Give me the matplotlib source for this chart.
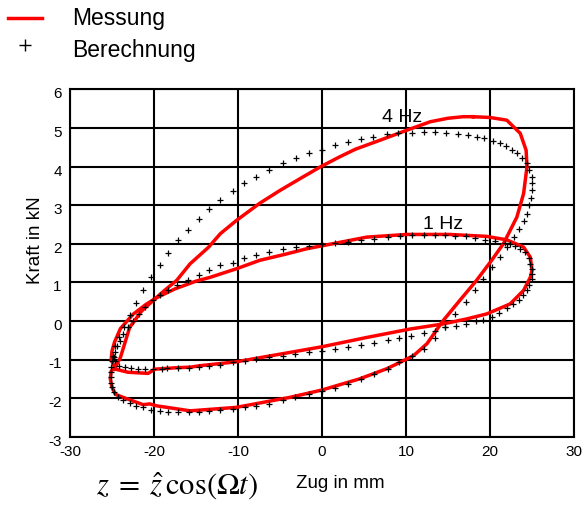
import matplotlib
matplotlib.use('Agg')
import matplotlib.pyplot as plt
from matplotlib.lines import Line2D
from matplotlib.transforms import ScaledTranslation

# Messung 4 Hz (rote Schleife)
mess4_x = [18.0, 20.0, 22.0, 23.6, 24.3, 24.4, 24.0, 23.2, 21.6, 20.2, 18.4, 16.4, 14.4, 12.5,
           10.9, 9.7, 7.7, 4.5, 0.0, -3.8, -10.2, -15.7, -19.7, -20.5, -21.3, -23.7, -24.6,
           -25.0, -25.2, -25.1, -24.6, -24.0, -22.9, -21.5, -20.1, -18.8, -17.3, -15.7, -13.5,
           -12.1, -10.2, -7.4, -5.0, -2.5, -0.2, 2.1, 4.0, 6.9, 10.1, 12.9, 15.0, 16.8, 18.0]
mess4_y = [5.29, 5.27, 5.2, 4.86, 4.42, 3.99, 3.3, 2.69, 2.0, 1.57, 1.05, 0.53, 0.0, -0.59,
           -0.9, -1.03, -1.24, -1.5, -1.79, -1.98, -2.24, -2.33, -2.2, -2.15, -2.17, -1.98, -1.9,
           -1.72, -1.5, -1.3, -1.2, -0.95, -0.17, 0.25, 0.53, 0.78, 1.05, 1.48, 1.91,
           2.26, 2.6, 3.05, 3.38, 3.7, 3.99, 4.25, 4.45, 4.68, 4.94, 5.16, 5.25, 5.29, 5.29]

# Messung 1 Hz
mess1_x = [-24.6, -25.1, -25.0, -24.7, -24.0, -22.5, -21.0, -19.7, -17.5, -15.0, -13.3, -10.2,
           -7.4, -4.5, -1.8, 1.3, 5.3, 10.1, 15.2, 19.6, 22.0, 24.0, 24.8, 25.0, 24.8, 24.0,
           22.4, 19.6, 17.2, 14.4, 10.5, 5.3, 0.0, -2.6, -6.0, -10.2, -14.5, -15.7, -17.1,
           -19.9, -20.7, -23.1, -24.6]
mess1_y = [-1.25, -1.0, -0.78, -0.55, -0.2, 0.17, 0.42, 0.6, 0.83, 1.03, 1.13, 1.35,
           1.57, 1.72, 1.87, 2.0, 2.17, 2.24, 2.24, 2.19, 2.1, 1.91, 1.65, 1.31, 1.13, 0.79,
           0.44, 0.18, 0.05, -0.08, -0.21, -0.43, -0.67, -0.77, -0.9, -1.06, -1.16, -1.2, -1.21,
           -1.25, -1.36, -1.33, -1.25]

# Berechnung 4 Hz (Kreuze)
calc4_x = [-20.3, -19.3, -18.3, -17.2, -15.9, -14.7, -13.5, -12.1, -10.6, -9.25, -7.8, -6.3,
           -4.7, -3.1, -1.55, 0.0, 1.55, 3.1, 4.6, 6.1, 7.7, 9.1, 10.7, 12.1, 13.5, 14.8, 16.2,
           17.4, 18.4, 19.3, 20.3, 21.2, 21.9, 22.6, 23.2, 23.8, 24.4, 24.7, 25.0, 25.0, 25.0,
           24.9, 24.7, 24.4, 24.0, 23.5, 22.8, 22.0, 21.2, 20.2, 19.2, 18.2, 17.1, 15.8, 14.6,
           13.5, 12.1, 10.7, 9.2, 7.8, 6.2, 4.6, 3.1, 1.55, 0.0, -1.55, -3.2, -4.7, -6.3, -7.8,
           -9.2, -10.6, -12.1, -13.4, -14.6, -15.8, -17.1, -18.3, -19.3, -20.3, -21.3, -22.1,
           -22.9, -23.7, -24.3, -24.8, -25.0, -25.1, -25.1, -25.1, -25.1, -25.0, -24.9, -24.6,
           -24.2, -23.6, -22.9, -22.1, -21.3]
calc4_y = [1.13, 1.45, 1.76, 2.09, 2.36, 2.64, 2.89, 3.12, 3.37, 3.56, 3.73, 3.92,
           4.08, 4.21, 4.34, 4.44, 4.55, 4.64, 4.71, 4.77, 4.83, 4.86, 4.88, 4.89, 4.89, 4.87, 4.84,
           4.81, 4.77, 4.73, 4.66, 4.6, 4.53, 4.44, 4.34, 4.21, 4.08, 3.9, 3.73, 3.56, 3.38,
           3.19, 2.99, 2.78, 2.59, 2.39, 2.17, 1.91, 1.65, 1.39, 1.09, 0.79, 0.48, 0.18, -0.17,
           -0.44, -0.73, -0.92, -1.07, -1.25, -1.38, -1.51, -1.64, -1.74, -1.81, -1.9, -1.97,
           -2.05, -2.14, -2.2, -2.24, -2.27, -2.3, -2.33, -2.35, -2.35, -2.37, -2.35, -2.33, -2.3,
           -2.24, -2.2, -2.13, -2.05, -1.97, -1.85, -1.72, -1.6, -1.46, -1.33, -1.2, -1.05, -0.9,
           -0.65, -0.42, -0.15, 0.15, 0.46, 0.79]

# Berechnung 1 Hz
calc1_x = [-24.6, -24.4, -24.0, -23.7, -23.1, -22.5, -21.8, -21.1, -20.1, -19.3, -18.3, -17.3,
           -15.9, -14.7, -13.5, -12.1, -10.6, -9.25, -7.8, -6.3, -4.7, -3.1, -1.55, 0.0, 1.55,
           3.1, 4.6, 6.2, 7.8, 9.3, 10.7, 12.1, 13.5, 14.6, 15.8, 17.1, 18.2, 19.4, 20.6, 21.8,
           22.4, 23.0, 23.6, 24.2, 24.7, 24.8, 25.0, 25.0, 25.0, 24.7, 24.4, 23.9, 23.4, 22.7,
           22.0, 21.1, 20.2, 19.2, 18.3, 17.1, 15.95, 14.6, 13.5, 12.1, 10.6, 9.2, 7.8, 6.2, 4.6,
           3.1, 1.55, 0.0, -1.6, -3.2, -4.7, -6.3, -7.8, -9.2, -10.6, -12.1, -13.4, -14.6, -15.8,
           -17.1, -18.5, -19.1, -20.1, -21.1, -21.9, -22.7, -23.5, -24.2, -24.7, -24.8]
calc1_y = [-0.81, -0.64, -0.51, -0.34, -0.17, 0.0, 0.18, 0.35, 0.53, 0.66, 0.79, 0.92,
           1.07, 1.19, 1.32, 1.44, 1.51, 1.63, 1.7, 1.78, 1.85, 1.91, 1.94, 1.98, 2.02,
           2.05, 2.09, 2.13, 2.17, 2.2, 2.22, 2.22, 2.22, 2.22, 2.21, 2.19, 2.16, 2.1, 2.06, 2.02,
           1.98, 1.93, 1.87, 1.78, 1.62, 1.48, 1.35, 1.22, 1.09, 0.92, 0.8, 0.67, 0.55, 0.44,
           0.33, 0.21, 0.11, 0.03, -0.01, -0.08, -0.14, -0.17, -0.25, -0.31, -0.38, -0.44, -0.49,
           -0.56, -0.62, -0.67, -0.73, -0.77, -0.81, -0.87, -0.9, -0.94, -0.99, -1.03, -1.07,
           -1.13, -1.16, -1.2, -1.22, -1.23, -1.23, -1.25, -1.25, -1.25, -1.25, -1.22, -1.19,
           -1.16, -1.05, -0.93]

x_ticks = [-30, -20, -10, 0, 10, 20, 30]
y_ticks = [-3, -2, -1, 0, 1, 2, 3, 4, 5, 6]

RED = '#FF0000'
plt.rcParams['font.family'] = ['Liberation Sans', 'DejaVu Sans']
plt.rcParams['mathtext.fontset'] = 'stix'
plt.rcParams['axes.unicode_minus'] = False

fig = plt.figure(figsize=(5.83, 5.09), dpi=100)
ax = fig.add_axes([70 / 583, 1 - 436.7 / 509, 504 / 583, 347.4 / 509])

ax.plot(mess4_x, mess4_y, color=RED, lw=2.5, zorder=3)
ax.plot(mess1_x, mess1_y, color=RED, lw=2.5, zorder=3)
ax.plot(calc4_x, calc4_y, '+', color='black', ms=5, mew=0.9, zorder=4)
ax.plot(calc1_x, calc1_y, '+', color='black', ms=5, mew=0.9, zorder=4)

ax.set_xlim(-30, 30)
ax.set_ylim(-3, 6)
ax.set_xticks(x_ticks)
ax.set_yticks(y_ticks)
ax.tick_params(length=0, labelsize=11)
ax.tick_params(axis='x', pad=6)
ax.tick_params(axis='y', pad=6)
ax.grid(True, color='black', lw=1.5)
ax.set_axisbelow(True)
for s in ax.spines.values():
    s.set_linewidth(1.5)
    s.set_color('black')

# y labels sit a little low in the original
off = ScaledTranslation(0, -0.035, fig.dpi_scale_trans)
for lab in ax.get_yticklabels():
    lab.set_transform(lab.get_transform() + off)

ax.text(9.5, 5.28, '4 Hz', fontsize=14, ha='center', va='center')
ax.text(14.4, 2.5, '1 Hz', fontsize=14, ha='center', va='center')

# legend drawn by hand, top left outside the axes
fig.add_artist(Line2D([8 / 583, 42 / 583], [1 - 18 / 509] * 2, color=RED, lw=2.5))
fig.add_artist(Line2D([25 / 583], [1 - 45 / 509], marker='+', color='black', ms=8, mew=1.0))
fig.text(72 / 583, 1 - 18 / 509, 'Messung', fontsize=16.5, va='center', ha='left')
fig.text(72 / 583, 1 - 50 / 509, 'Berechnung', fontsize=16.5, va='center', ha='left')

fig.text(35 / 583, 1 - 240 / 509, 'Kraft in kN', fontsize=13.5, rotation=90,
         ha='center', va='center')
fig.text(340 / 583, 1 - 484 / 509, 'Zug in mm', fontsize=13.5, ha='center', va='center')
fig.text(177 / 583, 1 - 486 / 509, r'$z\;=\;\hat{z}\,\cos(\Omega t)$', fontsize=22,
         ha='center', va='center')

fig.savefig('out.png', dpi=100, facecolor='white')
